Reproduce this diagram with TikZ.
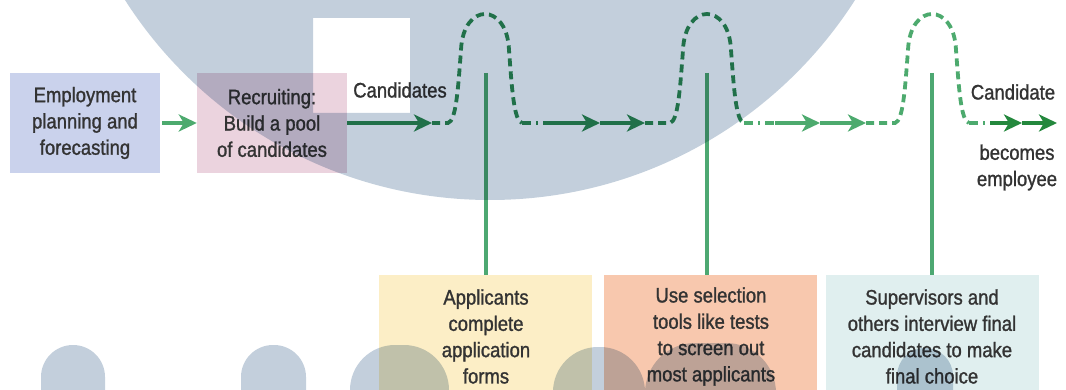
\documentclass[tikz,border=0pt]{standalone}
\usepackage{fontspec}
\setmainfont[FakeStretch=0.88,FakeBold=1.2]{Liberation Sans}
\usetikzlibrary{arrows.meta}
\definecolor{wm}{HTML}{C3CFDC}
\definecolor{txt}{HTML}{333333}
\definecolor{gdark}{HTML}{2B8A55}
\definecolor{glight}{HTML}{4DAA6E}
\definecolor{gfinal}{HTML}{24883D}
\definecolor{gvert}{HTML}{4DA872}
\definecolor{bblue}{HTML}{CAD2EC}
\definecolor{bpink}{HTML}{EBD3DE}
\definecolor{byellow}{HTML}{FCEEC6}
\definecolor{bsalmon}{HTML}{F8C8AE}
\definecolor{bcyan}{HTML}{E0EFEF}
\begin{document}
\begin{tikzpicture}[x=1pt,y=-1pt,
  lbl/.style={font=\fontsize{21}{26.3}\selectfont, text=txt, align=center, inner sep=0pt},
  topbox/.style={minimum width=150pt, minimum height=100pt, inner sep=0pt},
  lowbox/.style={minimum width=213pt, minimum height=115pt, inner sep=0pt, anchor=north west},
  flow/.style={line width=3.8pt},
  tip/.style={-{Stealth[length=18pt,width=17pt,inset=5pt]}},
  dsh/.style={flow, dash pattern=on 8pt off 5pt},
  dshdot/.style={flow, dash pattern=on 9pt off 5pt on 2pt off 5pt},
  vline/.style={line width=3.5pt, gvert}
]
\useasboundingbox (0,0) rectangle (1066,390);

% top boxes
\node[topbox, fill=bblue] (plan) at (85,123) {};
\node[lbl] (plantxt) at (plan.center) {Employment\\planning and\\forecasting};
\node[topbox, fill=bpink] (recr) at (272,123) {};
\node[lbl] (recrtxt) at (recr.center) {Recruiting:\\Build a pool\\of candidates};

% bottom boxes
\node[lowbox, fill=byellow] (boxA) at (379,275) {};
\node[lowbox, fill=bsalmon] (boxB) at (604,275) {};
\node[lowbox, fill=bcyan] (boxC) at (826,275) {};
\node[lbl] (txtA) at (486,336.5) {Applicants\\complete\\application\\forms};
\node[lbl] (txtB) at (711,336.5) {Use selection\\tools like tests\\to screen out\\most applicants};
\node[lbl] (txtC) at (932,336.5) {Supervisors and\\others interview final\\candidates to make\\final choice};

% labels
\node[lbl] (cands) at (400,90) {Candidates};
\node[lbl] (cand) at (1013,92) {Candidate};
\node[lbl] (becomes) at (1017,167.5) {becomes\\employee};

% vertical lines
\coordinate (v1) at (486,73);
\coordinate (v2) at (707,73);
\coordinate (v3) at (932,73);
\draw[vline] (v1) -- (v1 |- boxA.north);
\draw[vline] (v2) -- (v2 |- boxB.north);
\draw[vline] (v3) -- (v3 |- boxC.north);

% flow coordinates
\coordinate (a1) at (432,123);
\coordinate (h1e) at (522,123);
\coordinate (a2s) at (552,123);
\coordinate (a2m) at (600,123);
\coordinate (a2e) at (645,123);
\coordinate (h2e) at (744,123);
\coordinate (a3s) at (775,123);
\coordinate (a3m) at (820,123);
\coordinate (a3e) at (866,123);
\coordinate (h3e) at (969,123);
\coordinate (a4s) at (990,123);
\coordinate (a4m) at (1022,123);
\coordinate (a4e) at (1057,123);

\draw[flow, glight, tip, shorten <=2pt, line width=3.4pt] (plan.east) -- (recr.west);
\draw[flow, gdark, tip] (recr.east |- a1) -- (a1);
\draw[dsh, gdark] (a1) -- (448,123)
  .. controls (456,121) and (458,90) .. (461,50)
  .. controls (463,2) and (507,2) .. (509,50)
  .. controls (512,90) and (514,121) .. (h1e);
\draw[dshdot, gdark] (h1e) -- (a2s);
\draw[flow, gdark, tip] (a2s) -- (a2m);
\draw[flow, gdark, tip] (a2m) -- (a2e);
\draw[dsh, gdark] (a2e) -- (670,123)
  .. controls (678,121) and (680,90) .. (683,50)
  .. controls (685,2) and (729,2) .. (731,50)
  .. controls (734,90) and (736,121) .. (h2e);
\draw[dshdot, glight] (h2e) -- (a3s);
\draw[flow, glight, tip] (a3s) -- (a3m);
\draw[flow, glight, tip] (a3m) -- (a3e);
\draw[dsh, glight] (a3e) -- (895,123)
  .. controls (903,121) and (905,90) .. (908,50)
  .. controls (910,2) and (954,2) .. (956,50)
  .. controls (959,90) and (961,121) .. (h3e);
\draw[dshdot, glight] (h3e) -- (a4s);
\draw[flow, gfinal, tip] (a4s) -- (a4m);
\draw[flow, gfinal, tip] (a4m) -- (a4e);

% watermark
\begin{scope}[blend mode=multiply]
  \clip (0,0) rectangle (1066,390);
  \fill[wm, even odd rule] (490,-233) circle[radius=433pt] (313,18) rectangle (410,113);
  \fill[wm, rounded corners=32pt] (41,345) rectangle (105,430);
  \fill[wm, rounded corners=32pt] (241,345) rectangle (306,430);
  \fill[wm, rounded corners=45pt] (350,345) rectangle (449,440);
  \fill[wm, rounded corners=45pt] (553,347) rectangle (645,440);
  \fill[wm, rounded corners=50pt] (645,343) rectangle (776,450);
  \fill[wm, rounded corners=28pt] (897,348) rectangle (953,430);
\end{scope}
\end{tikzpicture}
\end{document}
